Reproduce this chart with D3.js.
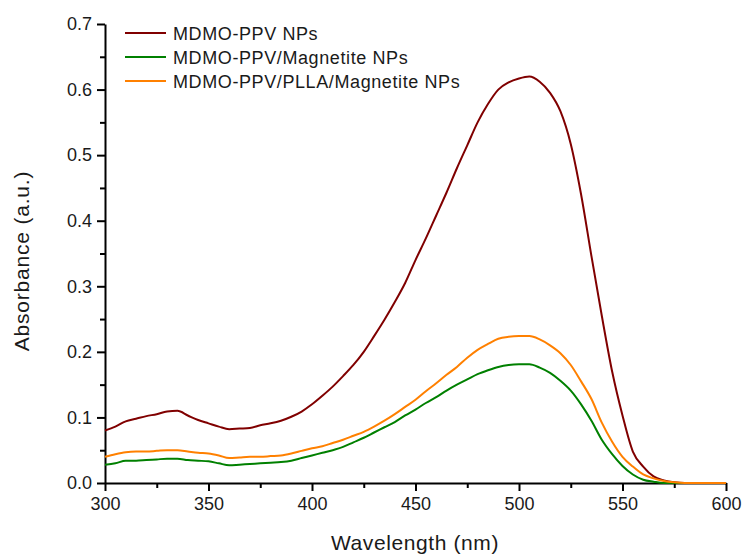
<!DOCTYPE html>
<html>
<head>
<meta charset="utf-8">
<script src="https://cdn.jsdelivr.net/npm/d3@7"></script>
<style>
  body { margin: 0; background: #fff; }
  text { font-family: "Liberation Sans", Arial, sans-serif; fill: #1a1a1a; }
</style>
</head>
<body>
<div id="chart"></div>
<script>
// wavelengths (nm), 5 nm steps
const wavelengths = d3.range(300, 601, 5);

const seriesNames = ['MDMO-PPV NPs', 'MDMO-PPV/Magnetite NPs', 'MDMO-PPV/PLLA/Magnetite NPs'];
const seriesColors = ['#800000', '#008000', '#ff8000'];

// values
const ppvNPs = [
  0.080, 0.086, 0.094, 0.098, 0.102, 0.105, 0.109, 0.110, 0.103, 0.096,
  0.091, 0.086, 0.082, 0.083, 0.084, 0.088, 0.091, 0.095, 0.101, 0.109,
  0.120, 0.133, 0.147, 0.163, 0.180, 0.200, 0.224, 0.249, 0.276, 0.305,
  0.340, 0.373, 0.408, 0.443, 0.480, 0.515, 0.550, 0.578, 0.600, 0.611,
  0.617, 0.620, 0.612, 0.595, 0.567, 0.517, 0.440, 0.346, 0.255, 0.170,
  0.103, 0.048, 0.025, 0.010, 0.004, 0.001, 0.000, 0.000, 0.000, 0.000,
  0.000
];
const magnetiteNPs = [
  0.028, 0.030, 0.034, 0.034, 0.035, 0.036, 0.037, 0.037, 0.035, 0.034,
  0.033, 0.030, 0.027, 0.028, 0.029, 0.030, 0.031, 0.032, 0.034, 0.038,
  0.042, 0.046, 0.050, 0.055, 0.062, 0.069, 0.077, 0.085, 0.093, 0.103,
  0.112, 0.122, 0.131, 0.141, 0.150, 0.158, 0.166, 0.172, 0.177, 0.180,
  0.181, 0.181, 0.176, 0.168, 0.156, 0.141, 0.120, 0.095, 0.066, 0.044,
  0.026, 0.013, 0.005, 0.002, 0.000, 0.000, 0.000, 0.000, 0.000, 0.000,
  0.000
];
const pllaNPs = [
  0.040, 0.044, 0.047, 0.048, 0.048, 0.049, 0.050, 0.050, 0.048, 0.046,
  0.045, 0.042, 0.038, 0.039, 0.040, 0.040, 0.041, 0.042, 0.045, 0.049,
  0.053, 0.056, 0.061, 0.066, 0.072, 0.078, 0.086, 0.095, 0.105, 0.116,
  0.127, 0.140, 0.152, 0.165, 0.177, 0.191, 0.203, 0.212, 0.220, 0.223,
  0.224, 0.224, 0.219, 0.210, 0.198, 0.180, 0.155, 0.128, 0.092, 0.063,
  0.040, 0.025, 0.013, 0.007, 0.003, 0.001, 0.000, 0.000, 0.000, 0.000,
  0.000
];
const seriesValues = [ppvNPs, magnetiteNPs, pllaNPs];

const xTicks = [300, 350, 400, 450, 500, 550, 600];
const yTicks = [0.0, 0.1, 0.2, 0.3, 0.4, 0.5, 0.6, 0.7];

const width = 745, height = 555;
const margin = { top: 24, right: 19, bottom: 72, left: 105 };

const svg = d3.select('#chart').append('svg')
    .attr('width', width)
    .attr('height', height);

let x = d3.scaleLinear()
    .domain([300, 600])
    .range([margin.left, width - margin.right]);
let y = d3.scaleLinear()
    .domain([0, 0.7])
    .range([height - margin.bottom, margin.top]);

// minor ticks
const xMinor = d3.range(325, 600, 50);
const yMinor = d3.range(0.05, 0.7, 0.1);

svg.append('g')
    .attr('transform', `translate(0,${y(0)})`)
    .call(d3.axisBottom(x).tickValues(xMinor).tickSize(5).tickSizeOuter(0).tickFormat(''))
    .call(g => g.select('.domain').remove())
    .selectAll('line').attr('stroke-width', 2);
svg.append('g')
    .attr('transform', `translate(${x(300)},0)`)
    .call(d3.axisLeft(y).tickValues(yMinor).tickSize(5).tickSizeOuter(0).tickFormat(''))
    .call(g => g.select('.domain').remove())
    .selectAll('line').attr('stroke-width', 2);

// major axes
let xAxis = svg.append('g')
    .attr('transform', `translate(0,${y(0)})`)
    .call(d3.axisBottom(x).tickValues(xTicks).tickSize(8).tickSizeOuter(0).tickPadding(6).tickFormat(d3.format('d')));
let yAxis = svg.append('g')
    .attr('transform', `translate(${x(300)},0)`)
    .call(d3.axisLeft(y).tickValues(yTicks).tickSize(8).tickSizeOuter(0).tickPadding(5).tickFormat(d3.format('.1f')));

[xAxis, yAxis].forEach(a => {
    a.select('.domain').attr('stroke-width', 2);
    a.selectAll('line').attr('stroke-width', 2);
    a.selectAll('text').style('font-size', '18px').attr('fill', '#1a1a1a');
});

// curves
const line = d3.line()
    .x((d, i) => x(wavelengths[i]))
    .y(d => y(d))
    .curve(d3.curveMonotoneX);

seriesValues.forEach((vals, i) => {
    svg.append('path')
        .datum(vals)
        .attr('fill', 'none')
        .attr('stroke', seriesColors[i])
        .attr('stroke-width', 2)
        .attr('stroke-linejoin', 'round')
        .attr('d', line);
});

// legend
const legend = svg.append('g');
seriesNames.forEach((name, i) => {
    let ly = 33 + i * 24;
    legend.append('line')
        .attr('x1', 125).attr('x2', 166)
        .attr('y1', ly).attr('y2', ly)
        .attr('stroke', seriesColors[i])
        .attr('stroke-width', 2);
    legend.append('text')
        .attr('x', 173)
        .attr('y', ly + 7)
        .style('font-size', '18px')
        .style('letter-spacing', '0.6px')
        .text(name);
});

// axis titles
svg.append('text')
    .attr('x', 415)
    .attr('y', 550)
    .attr('text-anchor', 'middle')
    .style('font-size', '21px')
    .style('letter-spacing', '0.6px')
    .text('Wavelength (nm)');

svg.append('text')
    .attr('transform', 'translate(29,261) rotate(-90)')
    .attr('text-anchor', 'middle')
    .style('font-size', '21px')
    .style('letter-spacing', '0.8px')
    .text('Absorbance (a.u.)');
</script>
</body>
</html>
